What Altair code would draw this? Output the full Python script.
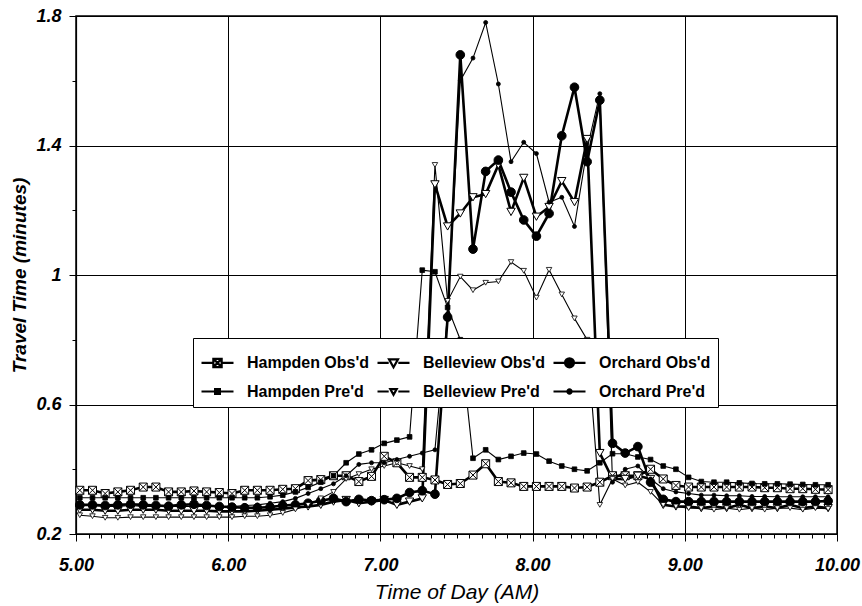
import altair as alt
import pandas as pd

# time of day (hours), 5-minute intervals
times = [5 + (5 * i + 1.5) / 60 for i in range(60)]

names = ["Hampden Obs'd", "Belleview Obs'd", "Orchard Obs'd",
         "Hampden Pre'd", "Belleview Pre'd", "Orchard Pre'd"]

hampden_obs = [0.335, 0.335, 0.325, 0.330, 0.335, 0.345, 0.345, 0.330, 0.330, 0.333,
               0.330, 0.328, 0.325, 0.335, 0.335, 0.335, 0.338, 0.340, 0.365, 0.368,
               0.380, 0.380, 0.362, 0.378, 0.440, 0.420, 0.375, 0.375, 0.367, 0.353,
               0.356, 0.382, 0.417, 0.362, 0.358, 0.347, 0.347, 0.347, 0.347, 0.342,
               0.345, 0.360, 0.380, 0.380, 0.380, 0.400, 0.370, 0.350, 0.345, 0.345,
               0.345, 0.345, 0.345, 0.345, 0.343, 0.343, 0.340, 0.340, 0.338, 0.337]
belleview_obs = [0.275, 0.275, 0.272, 0.272, 0.275, 0.275, 0.275, 0.272, 0.272, 0.272,
                 0.272, 0.270, 0.270, 0.270, 0.272, 0.275, 0.278, 0.282, 0.285, 0.290,
                 0.300, 0.305, 0.295, 0.300, 0.305, 0.290, 0.300, 0.310, 1.280, 1.150,
                 1.190, 1.240, 1.250, 1.340, 1.195, 1.300, 1.180, 1.210, 1.290, 1.225,
                 1.420, 0.450, 0.370, 0.370, 0.380, 0.370, 0.290, 0.285, 0.285, 0.280,
                 0.285, 0.280, 0.290, 0.280, 0.285, 0.280, 0.290, 0.280, 0.285, 0.280]
orchard_obs = [0.290, 0.290, 0.288, 0.290, 0.292, 0.290, 0.288, 0.286, 0.290, 0.292,
               0.288, 0.285, 0.283, 0.281, 0.281, 0.283, 0.288, 0.290, 0.295, 0.303,
               0.310, 0.300, 0.307, 0.303, 0.306, 0.310, 0.328, 0.334, 0.323, 0.870,
               1.680, 1.080, 1.320, 1.355, 1.256, 1.170, 1.120, 1.190, 1.430, 1.580,
               1.350, 1.540, 0.480, 0.450, 0.470, 0.360, 0.307, 0.300, 0.300, 0.300,
               0.300, 0.300, 0.300, 0.300, 0.300, 0.300, 0.300, 0.300, 0.300, 0.302]
hampden_pred = [0.312, 0.312, 0.312, 0.312, 0.312, 0.312, 0.312, 0.312, 0.312, 0.312,
                0.312, 0.312, 0.312, 0.312, 0.312, 0.315, 0.320, 0.330, 0.344, 0.360,
                0.380, 0.420, 0.447, 0.460, 0.480, 0.490, 0.500, 1.015, 1.010, 0.900,
                0.800, 0.434, 0.460, 0.430, 0.440, 0.450, 0.447, 0.425, 0.410, 0.400,
                0.395, 0.420, 0.448, 0.448, 0.438, 0.430, 0.410, 0.400, 0.375, 0.362,
                0.360, 0.360, 0.358, 0.356, 0.355, 0.355, 0.354, 0.353, 0.352, 0.352]
belleview_pred = [0.258, 0.255, 0.250, 0.250, 0.252, 0.252, 0.252, 0.252, 0.252, 0.252,
                  0.252, 0.252, 0.252, 0.255, 0.255, 0.258, 0.265, 0.276, 0.290, 0.310,
                  0.330, 0.370, 0.385, 0.400, 0.410, 0.420, 0.410, 0.400, 1.340, 0.920,
                  0.995, 0.953, 0.976, 0.980, 1.040, 1.013, 0.930, 1.016, 0.940, 0.866,
                  0.800, 0.290, 0.370, 0.350, 0.360, 0.330, 0.290, 0.285, 0.280, 0.280,
                  0.275, 0.280, 0.275, 0.280, 0.275, 0.280, 0.280, 0.275, 0.280, 0.278]
orchard_pred = [0.290, 0.288, 0.285, 0.285, 0.288, 0.285, 0.285, 0.285, 0.285, 0.285,
                0.285, 0.285, 0.285, 0.288, 0.290, 0.295, 0.300, 0.310, 0.325, 0.340,
                0.355, 0.380, 0.415, 0.420, 0.420, 0.430, 0.440, 0.450, 0.460, 0.880,
                1.600, 1.670, 1.780, 1.590, 1.350, 1.410, 1.375, 1.225, 1.240, 1.150,
                1.390, 1.560, 0.360, 0.400, 0.410, 0.370, 0.340, 0.330, 0.325, 0.320,
                0.320, 0.318, 0.318, 0.316, 0.316, 0.315, 0.315, 0.315, 0.315, 0.315]

series_values = [hampden_obs, belleview_obs, orchard_obs,
                 hampden_pred, belleview_pred, orchard_pred]

rows = []
for name, vals in zip(names, series_values):
    for t, v in zip(times, vals):
        rows.append({"s": name, "t": t, "v": v})
df = pd.DataFrame(rows)

FONT = "Liberation Sans"

box_x = "M-1,-1L1,-1L1,1L-1,1Z M-1,-1L1,1 M1,-1L-1,1"
# (shape, size, fill, strokeWidth of marker, line width)
styles = {
    "Hampden Obs'd": (box_x, 64, "white", 1.0, 2.6),
    "Belleview Obs'd": ("triangle-down", 70, "white", 1.0, 2.6),
    "Orchard Obs'd": ("circle", 75, "black", 1.0, 2.6),
    "Hampden Pre'd": ("square", 22, "black", 0.8, 1.1),
    "Belleview Pre'd": ("triangle-down", 30, "white", 0.8, 1.1),
    "Orchard Pre'd": ("circle", 16, "black", 0.8, 1.1),
}

major_y = "abs((datum.value * 2.5) % 1 - 0.5) < 0.01"
major_x = "abs(datum.value - round(datum.value)) < 0.001"

x_enc = alt.X(
    "t:Q",
    scale=alt.Scale(domain=[5, 10], nice=False, zero=False),
    axis=alt.Axis(
        title="Time of Day (AM)",
        values=[5 + i / 12 for i in range(61)],
        labelExpr=f"{major_x} ? format(datum.value, '.2f') : ''",
        gridOpacity={"condition": {"test": major_x, "value": 1}, "value": 0},
        tickSize={"condition": {"test": major_x, "value": 7}, "value": 4},
        labelFont=FONT, labelFontSize=18, labelFontWeight="bold", labelFontStyle="italic",
        labelPadding=15, labelFlush=False, labelOverlap=False,
        titleFont=FONT, titleFontSize=21, titleFontWeight="normal", titleFontStyle="italic",
        titlePadding=7,
    ),
)
y_enc = alt.Y(
    "v:Q",
    scale=alt.Scale(domain=[0.2, 1.8], nice=False, zero=False),
    axis=alt.Axis(
        title="Travel Time (minutes)",
        values=[0.2, 0.4, 0.6, 0.8, 1.0, 1.2, 1.4, 1.6, 1.8],
        labelExpr=f"{major_y} ? format(datum.value, '.1~f') : ''",
        gridOpacity={"condition": {"test": major_y, "value": 1}, "value": 0},
        tickSize={"condition": {"test": major_y, "value": 7}, "value": 4},
        labelFont=FONT, labelFontSize=18, labelFontWeight="bold", labelFontStyle="italic",
        labelPadding=8, labelFlush=False, labelOverlap=False,
        titleFont=FONT, titleFontSize=19, titleFontWeight="bold", titleFontStyle="italic",
        titlePadding=6,
    ),
)

base = alt.Chart(df)
layers = []
for name in names:
    shape, size, fill, mw, lw = styles[name]
    sub = base.transform_filter(alt.datum.s == name)
    layers.append(sub.mark_line(color="black", strokeWidth=lw).encode(x=x_enc, y=y_enc))
for name in names:
    shape, size, fill, mw, lw = styles[name]
    sub = base.transform_filter(alt.datum.s == name)
    layers.append(sub.mark_point(shape=shape, size=size, fill=fill, filled=True,
                                 stroke="black", strokeWidth=mw, opacity=1)
                  .encode(x=x_enc, y=y_enc))

# legend symbols: line segment with marker in the middle
seg = "M-1,0L-0.3,0 M0.3,0L1,0 "
def circ(r):
    return f"M{-r},0A{r},{r} 0 1,0 {r},0A{r},{r} 0 1,0 {-r},0Z"
legend_paths = [
    seg + "M-0.26,-0.26L0.26,-0.26L0.26,0.26L-0.26,0.26Z M-0.26,-0.26L0.26,0.26 M0.26,-0.26L-0.26,0.26",
    seg + "M-0.28,-0.22L0.28,-0.22L0,0.28Z",
    seg + circ(0.28),
    "M-1,0L1,0 M-0.15,-0.15L0.15,-0.15L0.15,0.15L-0.15,0.15Z",
    seg + "M-0.2,-0.15L0.2,-0.15L0,0.2Z",
    "M-1,0L1,0 " + circ(0.13),
]
legend_fills = ["white", "white", "black", "black", "white", "black"]
legend_widths = [2.2, 2.2, 2.2, 1.0, 1.0, 1.0]

leg = dict(
    title=None, orient="none", legendX=117, legendY=322, columns=3,
    direction="horizontal", padding=7, rowPadding=2, columnPadding=3,
    labelFont=FONT, labelFontSize=16, labelFontWeight="bold", labelColor="black",
    labelOffset=12, labelLimit=400, strokeColor="black", fillColor="white",
    symbolStrokeColor="black", symbolSize=1024, cornerRadius=0,
)
legend_layer = base.transform_filter("datum.v > 100").mark_point(
    size=1024, stroke="black", opacity=1
).encode(
    x=x_enc, y=y_enc,
    shape=alt.Shape("s:N", scale=alt.Scale(domain=names, range=legend_paths),
                    legend=alt.Legend(**leg)),
    fill=alt.Fill("s:N", scale=alt.Scale(domain=names, range=legend_fills),
                  legend=alt.Legend(**leg)),
    stroke=alt.Stroke("s:N", scale=alt.Scale(domain=names, range=["black"] * 6),
                      legend=alt.Legend(**leg)),
    strokeWidth=alt.StrokeWidth("s:N", scale=alt.Scale(domain=names, range=legend_widths),
                                legend=alt.Legend(**leg)),
)
layers.append(legend_layer)

chart = alt.layer(*layers).properties(
    width=761, height=518,
    padding={"left": 76, "top": 16, "right": 25, "bottom": 72},
    autosize=alt.AutoSizeParams(type="none"),
    background="white",
).configure_axis(
    domainColor="black", domainWidth=1.2, tickColor="black", gridColor="black",
    gridWidth=1, labelColor="black", titleColor="black",
).configure_view(stroke="black", strokeWidth=1.5)

chart.save("out.html", embed_options={"renderer": "svg", "actions": False})
